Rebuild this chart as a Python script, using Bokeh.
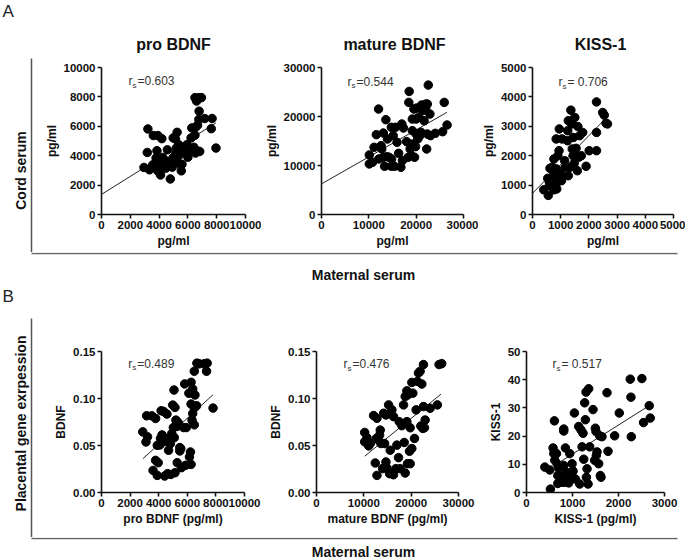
import math
from bokeh.plotting import figure
from bokeh.layouts import column, row
from bokeh.models import Range1d, FixedTicker, PrintfTickFormatter, Label
from bokeh.embed import file_html
from bokeh.resources import INLINE
from bokeh.core.properties import value

FONT = "Liberation Sans"

# ---------------- data ----------------
# A: maternal serum (x) vs cord serum (y)
proBDNF_mat_A = [3220, 3180, 2950, 3330, 3600, 3920, 4190, 3850, 3790, 4010, 4240, 3970, 4150, 3560, 3900, 4100,
                 4460, 4575, 4690, 4460, 4780, 4910, 4960, 4980, 5140, 5250, 5200, 5140, 5360, 5430, 5180, 5360,
                 5590, 5540, 5700, 5930, 6040, 6000, 6420, 6220, 6270, 6530, 6490, 6670, 6760, 6780, 6780, 6490,
                 6600, 6940, 7170, 7680, 7620, 7950, 6530, 6710, 6820, 5930]
proBDNF_cord_A = [5820, 4220, 3200, 3040, 5370, 5370, 5160, 4340, 3840, 3720, 3880, 3380, 3450, 3380, 2970, 2690,
                  3650, 4400, 3380, 3150, 2420, 3220, 3840, 5210, 5140, 5590, 4520, 4110, 4750, 4060, 3650, 3490,
                  3420, 2970, 4400, 4750, 4520, 3900, 4570, 5210, 5890, 5940, 5390, 6070, 6460, 7030, 7950, 7950,
                  7720, 7950, 6530, 6530, 5840, 4520, 4180, 4290, 4290, 4180]
proBDNF_fit_x = [0, 7950]
proBDNF_fit_y = [1370, 6230]

matBDNF_mat_A = [10100, 10100, 10770, 11110, 11580, 12050, 12120, 12730, 12590, 13060, 13060, 13330, 13600, 13800,
                 13940, 14280, 14750, 14750, 14810, 15150, 15620, 15420, 15960, 16300, 16770, 16970, 17310, 17100,
                 17980, 18320, 18520, 18450, 18720, 18990, 18990, 19190, 19530, 19660, 19870, 20000, 20070, 20340,
                 20540, 20670, 21010, 21140, 21350, 21680, 22020, 22020, 22360, 22560, 22900, 23030, 24040, 25930,
                 25590, 26530, 22220, 22360, 19190, 20000]
matBDNF_cord_A = [12150, 10320, 10660, 13710, 16290, 21520, 11340, 13370, 14050, 16630, 11680, 9840, 19350, 11810,
                  15410, 11680, 17790, 9840, 11340, 16090, 17790, 9840, 14730, 12490, 9640, 18470, 17650, 11000,
                  14870, 11680, 25120, 22880, 13370, 14390, 12020, 19480, 21520, 11680, 13850, 19480, 21720, 15410,
                  19820, 15950, 16770, 22340, 21180, 19140, 22540, 21720, 16430, 26410, 20500, 16090, 16560, 22880,
                  16900, 18260, 13370, 22540, 17110, 16430]
matBDNF_fit_x = [0, 26500]
matBDNF_fit_y = [6250, 20850]

kiss_mat_A = [400, 560, 540, 600, 650, 620, 690, 700, 760, 700, 760, 800, 760, 820, 860, 840, 850, 900, 940, 950,
              1000, 1030, 1050, 1140, 1160, 1240, 1250, 1270, 1270, 1330, 1360, 1390, 1410, 1440, 1450, 1480, 1500,
              1500, 1545, 1590, 1610, 1640, 1670, 1730, 1780, 1900, 2010, 2270, 2270, 2270, 2490, 2545, 2660, 2610,
              600, 650, 720, 880]
kiss_cord_A = [840, 650, 1230, 985, 1060, 1570, 1270, 960, 840, 1610, 1320, 930, 1890, 1150, 870, 2570, 1550, 2000,
               2170, 2910, 1380, 1150, 2570, 1830, 1610, 2510, 2850, 3190, 1320, 1610, 3550, 3080, 2230, 2000, 2620,
               1740, 3300, 2060, 2250, 1490, 2990, 1950, 2680, 2000, 2790, 1640, 2170, 3830, 2790, 2170, 3470, 3380,
               3080, 3100, 1100, 1200, 1000, 1100]
kiss_fit_x = [0, 2660]
kiss_fit_y = [720, 3330]

# B: maternal serum (x) vs placental gene expression (y)
proBDNF_mat_B = [2885, 3110, 3220, 3155, 3515, 3785, 3605, 3785, 3965, 3900, 3900, 4080, 4125, 4235, 4170, 4350,
                 4575, 4460, 4460, 4620, 4690, 4415, 4820, 4845, 4915, 4980, 5070, 5025, 5090, 5140, 5140, 5205,
                 5270, 5360, 5475, 5475, 5295, 5545, 5745, 5815, 5930, 5880, 5590, 6110, 6150, 6220, 6265, 6380,
                 6265, 6380, 6265, 6490, 6535, 6490, 6670, 6650, 6330, 6490, 6715, 6830, 7165, 7390, 7345, 7800]
bdnf_plac_B1 = [0.0645, 0.0538, 0.0592, 0.0816, 0.0816, 0.0788, 0.0235, 0.0342, 0.0317, 0.0182, 0.0502, 0.0506,
                0.0577, 0.0613, 0.0870, 0.0862, 0.0834, 0.0542, 0.0577, 0.0200, 0.0449, 0.0175, 0.0520, 0.0192,
                0.0627, 0.0930, 0.1090, 0.0691, 0.0584, 0.0905, 0.0210, 0.0770, 0.0702, 0.0745, 0.0478, 0.0442,
                0.0317, 0.0467, 0.0691, 0.1155, 0.0691, 0.0289, 0.0264, 0.1055, 0.0378, 0.0431, 0.1172, 0.1101,
                0.0299, 0.0841, 0.0941, 0.0898, 0.1037, 0.1290, 0.1376, 0.0923, 0.0770, 0.0720, 0.1369, 0.1369,
                0.1369, 0.1376, 0.1290, 0.0898]
proBDNF_B_fit_x = [2900, 7800]
proBDNF_B_fit_y = [0.036, 0.104]

matBDNF_mat_B = [10180, 10180, 10670, 11020, 11370, 12070, 12420, 12770, 12770, 12630, 13120, 13330, 13470, 13610,
                 13960, 14180, 14390, 14670, 14670, 14880, 15230, 15440, 15580, 15930, 16280, 16280, 16770, 16980,
                 17330, 17470, 17680, 18040, 18390, 18530, 18740, 18740, 19090, 19300, 19090, 19230, 19650, 19790,
                 20140, 19790, 20140, 20350, 20700, 21050, 21330, 21540, 21890, 22250, 22600, 22040, 22460, 22600,
                 22950, 22810, 24000, 25540, 25890, 26460]
bdnf_plac_B2 = [0.0639, 0.0539, 0.0582, 0.0496, 0.0521, 0.0818, 0.0314, 0.0182, 0.0789, 0.0575, 0.0557, 0.0611,
                0.0664, 0.0521, 0.0254, 0.0843, 0.0521, 0.0325, 0.0825, 0.0261, 0.0932, 0.0200, 0.0450, 0.0879,
                0.0189, 0.0807, 0.0254, 0.0504, 0.0371, 0.0754, 0.0254, 0.0711, 0.0932, 0.0532, 0.0207, 0.1021,
                0.1082, 0.1039, 0.0754, 0.0307, 0.0439, 0.0307, 0.0468, 0.0689, 0.1171, 0.1057, 0.0575, 0.0879,
                0.1182, 0.1271, 0.1289, 0.1154, 0.1361, 0.0707, 0.0682, 0.0914, 0.0771, 0.0689, 0.0896, 0.0932,
                0.1361, 0.1371]
matBDNF_B_fit_x = [10180, 26300]
matBDNF_B_fit_y = [0.0386, 0.1046]

kiss_mat_B = [398, 506, 520, 578, 607, 593, 614, 651, 665, 680, 701, 680, 738, 774, 810, 810, 810, 846, 868, 846,
              897, 918, 940, 969, 991, 1012, 1041, 1063, 1135, 1157, 1186, 1208, 1229, 1244, 1265, 1280, 1294, 1316,
              1302, 1338, 1352, 1374, 1446, 1482, 1497, 1511, 1518, 1533, 1569, 1605, 1620, 1591, 1641, 1750, 1772,
              1916, 2017, 2256, 2270, 2278, 2509, 2545, 2668, 2690]
kiss_plac_B = [9.0, 8.0, 1.2, 15.8, 25.4, 13.8, 11.4, 13.8, 10.2, 6.0, 8.6, 3.2, 5.6, 3.6, 9.6, 21.8, 22.5, 15.8,
               7.2, 3.6, 5.4, 3.4, 13.8, 6.2, 10.2, 7.6, 28.2, 4.8, 23.4, 3.0, 22.2, 16.2, 21.0, 11.8, 31.8, 25.8,
               35.6, 8.4, 5.4, 3.0, 36.8, 16.2, 29.4, 11.4, 22.8, 21.6, 13.2, 14.4, 10.2, 6.0, 5.4, 20.1, 19.8, 35.4,
               14.6, 20.1, 28.2, 40.2, 33.8, 19.8, 40.4, 24.8, 30.8, 26.4]
kiss_B_fit_x = [665, 2668]
kiss_B_fit_y = [10.2, 30.8]

titles_A = ["pro BDNF", "mature BDNF", "KISS-1"]
rs_texts = ["=0.603", "=0.544", "= 0.706", "=0.489", "=0.476", "= 0.517"]

ticks_pro = [0, 2000, 4000, 6000, 8000, 10000]
ticks_mat = [0, 10000, 20000, 30000]
ticks_kiss_A = [0, 1000, 2000, 3000, 4000, 5000]
ticks_kiss_B = [0, 1000, 2000, 3000]
ticks_bdnf_plac = [0.0, 0.05, 0.10, 0.15]
ticks_kiss_plac = [0, 10, 20, 30, 40, 50]

# ---------------- layout geometry ----------------
LEFT_W = 40
COL_W = [221, 217, 207]
BORDER_L = [61, 55, 48]
FRAME_W_A = [144, 147, 147]
FRAME_W_B = [143, 142, 138]
TITLE_H = 55
ROW_A_H, TOP_A, FRAME_H_A = 197, 12, 147
ROW_B_H, TOP_B, FRAME_H_B = 232, 46, 141
STRIP_A_H = 53
STRIP_B_H = 22
TITLE_X = [173, 394, 600]


def style_axis(ax):
    ax.axis_line_width = 1.6
    ax.axis_line_color = "#111111"
    ax.major_tick_line_width = 1.6
    ax.major_tick_line_color = "#111111"
    ax.major_tick_in = 0
    ax.major_tick_out = 4
    ax.minor_tick_line_color = None
    ax.major_label_text_font = FONT
    ax.major_label_text_font_style = "bold"
    ax.major_label_text_font_size = "11.5px"
    ax.major_label_text_color = "#111111"
    ax.major_label_standoff = 2
    ax.axis_label_text_font = FONT
    ax.axis_label_text_font_style = "bold"
    ax.axis_label_text_font_size = "12px"
    ax.axis_label_text_color = "#111111"
    ax.axis_label_standoff = 2


def panel(col, is_a, xs, ys, fx, fy, xticks, yticks, yfmt, xlabel, ylabel, rs_x, rs_y, rs_text):
    h = ROW_A_H if is_a else ROW_B_H
    top = TOP_A if is_a else TOP_B
    fh = FRAME_H_A if is_a else FRAME_H_B
    fw = (FRAME_W_A if is_a else FRAME_W_B)[col]
    w = COL_W[col]
    p = figure(width=w, height=h, x_range=Range1d(xticks[0], xticks[-1]), y_range=Range1d(yticks[0], yticks[-1]),
               toolbar_location=None, output_backend="svg")
    p.frame_align = False
    p.min_border_left = BORDER_L[col]
    p.min_border_right = w - BORDER_L[col] - fw
    p.min_border_top = top
    p.min_border_bottom = h - top - fh
    p.outline_line_color = None
    p.xgrid.grid_line_color = None
    p.ygrid.grid_line_color = None
    p.background_fill_color = "white"
    p.border_fill_color = "white"
    p.xaxis.ticker = FixedTicker(ticks=xticks)
    p.yaxis.ticker = FixedTicker(ticks=yticks)
    p.xaxis.formatter = PrintfTickFormatter(format="%d")
    p.yaxis.formatter = PrintfTickFormatter(format=yfmt)
    p.xaxis.axis_label = xlabel
    p.yaxis.axis_label = ylabel
    style_axis(p.xaxis[0])
    style_axis(p.yaxis[0])
    p.line(fx, fy, line_color="#222222", line_width=1)
    p.scatter(xs, ys, size=8.5, fill_color="black", line_color="black")
    for txt, dx, dy, fs in (("r", 0, 0, "12px"), ("s", 4, -4, "8px"), (rs_text, 9, 0, "12px")):
        p.add_layout(Label(x=rs_x, y=rs_y, x_offset=dx, y_offset=dy, text=txt, text_font=FONT,
                           text_font_size=fs, text_color="#333333", text_baseline="middle"))
    return p


def canvas(w, h):
    p = figure(width=w, height=h, x_range=Range1d(0, w), y_range=Range1d(h, 0),
               toolbar_location=None, output_backend="svg", x_axis_type=None, y_axis_type=None,
               min_border=0)
    p.frame_align = False
    p.min_border_left = p.min_border_right = p.min_border_top = p.min_border_bottom = 0
    p.outline_line_color = None
    p.background_fill_color = "white"
    p.border_fill_color = "white"
    return p


def add_text(p, x, y, t, size, bold=True, angle=0.0, align="center", color="#111111"):
    p.text(x=[x], y=[y], text=[t], angle=angle, text_font=value(FONT),
           text_font_style="bold" if bold else "normal", text_font_size=size,
           text_align=align, text_baseline="middle", text_color=color)


# ---------- title strip ----------
titleA = canvas(685, TITLE_H)
add_text(titleA, 2, 11, "A", "17px", bold=False, align="left", color="#222222")
for tx, t in zip(TITLE_X, titles_A):
    add_text(titleA, tx, 44, t, "16px")

# ---------- Row A ----------
leftA = canvas(LEFT_W, ROW_A_H)
add_text(leftA, 20, 115, "Cord serum", "14px", angle=math.pi / 2)
leftA.line([31, 31], [3, ROW_A_H], line_color="#555555", line_width=1.5)

a1 = panel(0, True, proBDNF_mat_A, proBDNF_cord_A, proBDNF_fit_x, proBDNF_fit_y, ticks_pro, ticks_pro,
           "%d", "pg/ml", "pg/ml", 1875, 9050, rs_texts[0])
a2 = panel(1, True, matBDNF_mat_A, matBDNF_cord_A, matBDNF_fit_x, matBDNF_fit_y, ticks_mat, ticks_mat,
           "%d", "pg/ml", "pg/ml", 5510, 27140, rs_texts[1])
a3 = panel(2, True, kiss_mat_A, kiss_cord_A, kiss_fit_x, kiss_fit_y, ticks_kiss_A, ticks_kiss_A,
           "%d", "pg/ml", "pg/ml", 918, 4490, rs_texts[2])

stripA = canvas(685, STRIP_A_H)
stripA.line([31, 677], [1, 1], line_color="#666666", line_width=1.5)
add_text(stripA, 363, 22, "Maternal serum", "14px")
add_text(stripA, 2, 44, "B", "17px", bold=False, align="left", color="#222222")

# ---------- Row B ----------
leftB = canvas(LEFT_W, ROW_B_H)
add_text(leftB, 20, 118, "Placental gene exrpession", "14px", angle=math.pi / 2)
leftB.line([31, 31], [13, ROW_B_H], line_color="#555555", line_width=1.5)

b1 = panel(0, False, proBDNF_mat_B, bdnf_plac_B1, proBDNF_B_fit_x, proBDNF_B_fit_y, ticks_pro, ticks_bdnf_plac,
           "%.2f", "pro BDNF (pg/ml)", "BDNF", 1875, 0.1372, rs_texts[3])
b2 = panel(1, False, matBDNF_mat_B, bdnf_plac_B2, matBDNF_B_fit_x, matBDNF_B_fit_y, ticks_mat, ticks_bdnf_plac,
           "%.2f", "mature BDNF (pg/ml)", "BDNF", 5700, 0.1362, rs_texts[4])
b3 = panel(2, False, kiss_mat_B, kiss_plac_B, kiss_B_fit_x, kiss_B_fit_y, ticks_kiss_B, ticks_kiss_plac,
           "%d", "KISS-1 (pg/ml)", "KISS-1", 565, 45.4, rs_texts[5])

stripB = canvas(685, STRIP_B_H)
stripB.line([31, 677], [1, 1], line_color="#666666", line_width=1.5)
add_text(stripB, 363, 14, "Maternal serum", "14px")

layout = column(titleA, row(leftA, a1, a2, a3, spacing=0), stripA,
                row(leftB, b1, b2, b3, spacing=0), stripB, spacing=0)

open("out.html", "w").write(file_html(layout, INLINE))
